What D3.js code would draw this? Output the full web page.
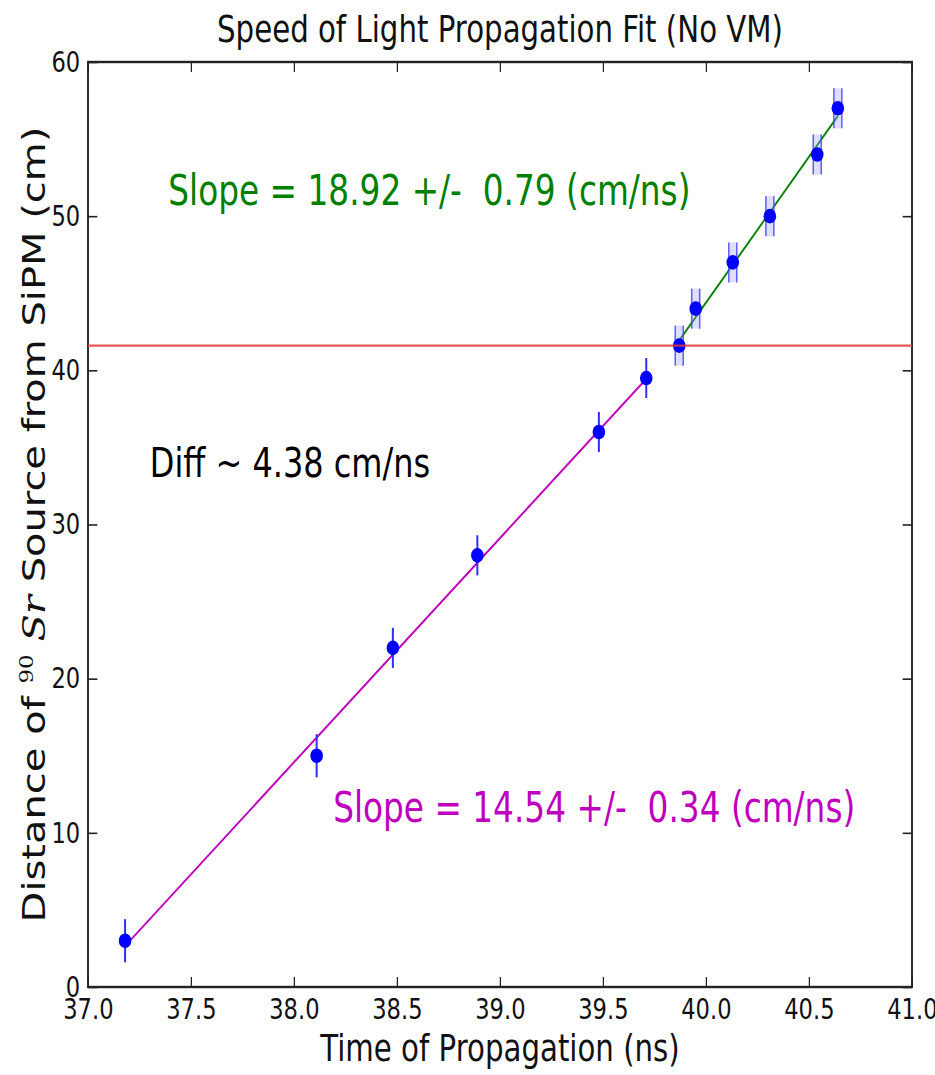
<!DOCTYPE html>
<html>
<head>
<meta charset="utf-8">
<script src="https://cdn.jsdelivr.net/npm/d3@7"></script>
<style>
  html, body { margin: 0; padding: 0; background: #fff; }
  svg { display: block; }
  text { font-family: "DejaVu Sans", sans-serif; }
</style>
</head>
<body>
<script>
// Measured propagation times (ns) and source distances (cm)
const times     = [37.18, 38.11, 38.48, 38.89, 39.48, 39.71, 39.87, 39.95, 40.13, 40.31, 40.54, 40.64];
const distances = [3, 15, 22, 28, 36, 39.5, 41.6, 44, 47, 50, 54, 57];
const distErr   = [1.4, 1.4, 1.3, 1.3, 1.3, 1.3, 1.3, 1.3, 1.3, 1.3, 1.3, 1.3];
// which fit group each point belongs to (0 = near, 1 = far)
const group     = [0, 0, 0, 0, 0, 0, 1, 1, 1, 1, 1, 1];

// Linear fits: y = slope * t + intercept over [tStart, tEnd]
const fitSlopes     = [14.54, 18.92];
const fitErrors     = [0.34, 0.79];
const fitIntercepts = [-537.94, -712.41];
const fitStart      = [37.18, 39.87];
const fitEnd        = [39.71, 40.64];
const fitColors     = ["#bf00bf", "#008000"];

// Transition distance marker
const transitionDist = 41.6;

// Axis ticks
const xTicks = [37.0, 37.5, 38.0, 38.5, 39.0, 39.5, 40.0, 40.5, 41.0];
const yTicks = [0, 10, 20, 30, 40, 50, 60];

const titleText = "Speed of Light Propagation Fit (No VM)";
const xLabel = "Time of Propagation (ns)";
const diffText = "Diff ~ 4.38 cm/ns";

// The figure is drawn on a wider canvas and squeezed horizontally
const k = 0.78;
const W = 935 / k, H = 1075;

const svg = d3.select("body").append("svg")
  .attr("width", 935).attr("height", H)
  .attr("viewBox", `0 0 ${W} ${H}`)
  .attr("preserveAspectRatio", "none");

const L = 88 / k, R = 912 / k, T = 62, B = 987;

const x = d3.scaleLinear().domain([37, 41]).range([L, R]);
const y = d3.scaleLinear().domain([0, 60]).range([B, T]);

// Axes with inward ticks on all four sides
const tickFont = 29;
const xAxis = svg.append("g").attr("transform", `translate(0,${B})`)
  .call(d3.axisBottom(x).tickValues(xTicks).tickFormat(d3.format(".1f")).tickSize(-10).tickPadding(11));
const xAxisTop = svg.append("g").attr("transform", `translate(0,${T})`)
  .call(d3.axisTop(x).tickValues(xTicks).tickFormat("").tickSize(-10));
const yAxis = svg.append("g").attr("transform", `translate(${L},0)`)
  .call(d3.axisLeft(y).tickValues(yTicks).tickFormat(d3.format("d")).tickSize(-12).tickPadding(10));
const yAxisRight = svg.append("g").attr("transform", `translate(${R},0)`)
  .call(d3.axisRight(y).tickValues(yTicks).tickFormat("").tickSize(-12));

[xAxis, xAxisTop, yAxis, yAxisRight].forEach(g => {
  g.select(".domain").remove();
  g.selectAll(".tick line").attr("stroke", "#222").attr("stroke-width", 1.6);
  g.selectAll(".tick text").attr("font-size", tickFont).attr("fill", "#111")
    .attr("font-family", "DejaVu Sans, sans-serif");
});

// Plot frame
svg.append("rect")
  .attr("x", L).attr("y", T).attr("width", R - L).attr("height", B - T)
  .attr("fill", "none").attr("stroke", "#222").attr("stroke-width", 2.4);

// Fit lines
fitSlopes.forEach((s, i) => {
  const t0 = fitStart[i], t1 = fitEnd[i];
  svg.append("line")
    .attr("x1", x(t0)).attr("y1", y(s * t0 + fitIntercepts[i]))
    .attr("x2", x(t1)).attr("y2", y(s * t1 + fitIntercepts[i]))
    .attr("stroke", fitColors[i]).attr("stroke-width", 2.2);
});

// Error bars
const pts = times.map((t, i) => ({ t, d: distances[i], e: distErr[i], g: group[i] }));
const eb = svg.append("g");
pts.forEach(p => {
  const cx = x(p.t), y0 = y(p.d - p.e), y1 = y(p.d + p.e);
  if (p.g === 0) {
    eb.append("line").attr("x1", cx).attr("x2", cx).attr("y1", y0).attr("y2", y1)
      .attr("stroke", "#3030ff").attr("stroke-width", 2.6);
  } else {
    const hw = 4 / k;
    eb.append("rect").attr("x", cx - hw).attr("width", 2 * hw)
      .attr("y", y1).attr("height", y0 - y1)
      .attr("fill", "#a0a0ff").attr("opacity", 0.35);
    [-hw, hw].forEach(o => eb.append("line")
      .attr("x1", cx + o).attr("x2", cx + o).attr("y1", y0).attr("y2", y1)
      .attr("stroke", "#4040ff").attr("stroke-width", 2).attr("opacity", 0.8));
  }
});

// Data points
svg.append("g").selectAll("ellipse").data(pts).join("ellipse")
  .attr("cx", p => x(p.t)).attr("cy", p => y(p.d))
  .attr("rx", 6.3 / k).attr("ry", 7.3)
  .attr("fill", "#0000ff");

// Transition distance line
svg.append("line")
  .attr("x1", L).attr("x2", R)
  .attr("y1", y(transitionDist)).attr("y2", y(transitionDist))
  .attr("stroke", "#e03a3a").attr("stroke-width", 2.2).attr("opacity", 0.85);

// Slope annotations
const fmt = d3.format(".2f");
const annPos = [[38.19, 10.7], [37.39, 50.7]];
fitSlopes.forEach((s, i) => {
  svg.append("text")
    .attr("x", x(annPos[i][0])).attr("y", y(annPos[i][1]))
    .attr("font-size", 42).attr("fill", fitColors[i])
    .attr("xml:space", "preserve")
    .text(`Slope = ${fmt(s)} +/-  ${fmt(fitErrors[i])} (cm/ns)`);
});
svg.append("text")
  .attr("x", x(37.3)).attr("y", y(33.1))
  .attr("font-size", 41).attr("fill", "#000")
  .text(diffText);

// Title and axis labels
svg.append("text")
  .attr("x", (L + R) / 2).attr("y", 42)
  .attr("text-anchor", "middle").attr("font-size", 37.5).attr("fill", "#111")
  .text(titleText);

svg.append("text")
  .attr("x", (L + R) / 2).attr("y", 1061)
  .attr("text-anchor", "middle").attr("font-size", 37.5).attr("fill", "#111")
  .text(xLabel);

const yl = svg.append("text")
  .attr("transform", `translate(${45 / k},${(T + B) / 2}) rotate(-90)`)
  .attr("text-anchor", "middle").attr("font-size", 40).attr("fill", "#111");
yl.append("tspan").text("Distance of ");
yl.append("tspan").attr("font-family", "DejaVu Serif, serif").attr("font-size", 23)
  .attr("dy", -16).text("90");
yl.append("tspan").attr("font-family", "DejaVu Serif, serif").attr("font-style", "italic")
  .attr("dy", 16).text(" Sr");
yl.append("tspan").text(" Source from SiPM (cm)");
</script>
</body>
</html>
